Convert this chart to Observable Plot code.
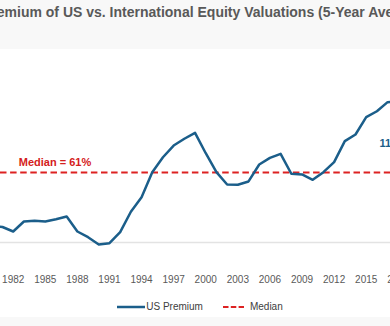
<!DOCTYPE html>
<html>
<head>
<meta charset="utf-8">
<script src="https://cdn.jsdelivr.net/npm/d3@7"></script>
<script src="https://cdn.jsdelivr.net/npm/@observablehq/plot@0.6"></script>
<style>
  html, body { margin: 0; padding: 0; background: #f8f8f8; }
  #wrap { position: relative; width: 390px; height: 326px; overflow: hidden; background: #f8f8f8; font-family: Arial, "Liberation Sans", sans-serif; }
  #title { position: absolute; left: -18px; top: 4px; white-space: nowrap; font: bold 14px Arial, "Liberation Sans", sans-serif; color: #595959; }
  #panel { position: absolute; left: 0; top: 49px; width: 390px; height: 268px; background: #ffffff; }
  #chart { position: absolute; left: 0; top: 49px; width: 420px; }
  #chart svg { max-width: none !important; }
  #legend { position: absolute; left: 0; top: 301px; width: 400px; display: flex; justify-content: center; align-items: center; font-size: 10px; color: #404040; white-space: nowrap; }
  #legend .item { display: flex; align-items: center; }
</style>
</head>
<body>
<div id="wrap">
  <div id="title">Premium of US vs. International Equity Valuations (5-Year Average)</div>
  <div id="panel"></div>
  <div id="chart"></div>
  <div id="legend">
    <span class="item"><svg width="28" height="10"><line x1="0" y1="5" x2="28" y2="5" stroke="#1b5e8a" stroke-width="2.5"/></svg><span style="margin-left:1px">US Premium</span></span>
    <span class="item" style="margin-left:20px"><svg width="21" height="10"><line x1="0" y1="5" x2="21" y2="5" stroke="#dd2222" stroke-width="2" stroke-dasharray="5.5,2.3"/></svg><span style="margin-left:6px">Median</span></span>
  </div>
</div>
<script>
const years = [1980,1981,1982,1983,1984,1985,1986,1987,1988,1989,1990,1991,1992,1993,1994,1995,1996,1997,1998,1999,2000,2001,2002,2003,2004,2005,2006,2007,2008,2009,2010,2011,2012,2013,2014,2015,2016,2017,2018];
const premium = [14.8,13.5,9.6,18.3,18.9,18.3,20.3,22.7,9.6,4.6,-1.7,-0.6,9.0,26.8,39.5,61.3,74.3,84.5,90.4,95.6,77.8,61.3,50.5,50.3,53.2,68.0,73.8,77.3,59.9,59.3,54.6,61.3,70.0,88.3,94.1,109.2,114.4,122.3,122.5];
const medianValue = 61;
const medianLabel = "Median = 61%";
const endLabel = "118%";
const tickYears = [1982,1985,1988,1991,1994,1997,2000,2003,2006,2009,2012,2015,2018];

const data = years.map((y, i) => ({year: y, value: premium[i]}));

const pxPerYear = 10.697;
const x0 = 1982 - 12.7 / pxPerYear;
const W = 420;
const pxPerPct = 1.1475;
const zeroY = 193;
const H = 245;

const chart = Plot.plot({
  width: W,
  height: H,
  marginLeft: 0,
  marginRight: 0,
  marginTop: zeroY - 150 * pxPerPct,
  marginBottom: H - (zeroY + 10 * pxPerPct),
  style: {background: "transparent", fontFamily: "Arial, 'Liberation Sans', sans-serif", overflow: "visible", maxWidth: "none"},
  x: {domain: [x0, x0 + W / pxPerYear], axis: null},
  y: {domain: [-10, 150], axis: null},
  marks: [
    Plot.ruleY([0], {stroke: "#e3e3e3", strokeWidth: 1.5}),
    Plot.axisX({ticks: tickYears, tickFormat: d => String(d), tickSize: 0, tickPadding: 22, fontSize: 10, color: "#595959", label: null}),
    Plot.ruleY([medianValue], {stroke: "#dd2222", strokeWidth: 2, strokeDasharray: "6.5,3.6"}),
    Plot.line(data, {x: "year", y: "value", stroke: "#1b5e8a", strokeWidth: 2.5, clip: true}),
    Plot.text([medianLabel], {x: 1982.52, y: 70, text: d => d, textAnchor: "start", fill: "#d42020", fontWeight: "bold", fontSize: 11}),
    Plot.text([endLabel], {x: 2016.24, y: 86.5, text: d => d, textAnchor: "start", fill: "#1b5e8a", fontWeight: "bold", fontSize: 11})
  ]
});
document.getElementById("chart").appendChild(chart);
</script>
</body>
</html>
